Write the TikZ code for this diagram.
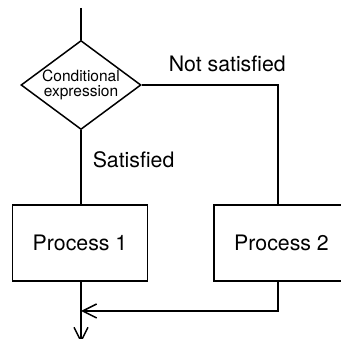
\documentclass[tikz,border=0pt]{standalone}
\usepackage{fontspec}
\setmainfont{TeX Gyre Heros}
\usetikzlibrary{shapes.geometric,arrows.meta}
\begin{document}
\begin{tikzpicture}[x=1pt,y=-1pt,line width=1.5pt,
  big/.style={font=\fontsize{21.3}{24}\selectfont},
  procbox/.style={draw,big,minimum width=135pt,minimum height=76pt,inner sep=0pt},
  lbl/.style={big,inner sep=0pt,anchor=base west},
  arr/.style={-{Straight Barb[length=14pt,width=14pt]}}]
\useasboundingbox (0,0) rectangle (341,339);
\coordinate (top) at (81,8);
\node[draw,diamond,aspect=1.35,minimum width=120pt,minimum height=89pt,inner sep=0pt,
      align=center,font=\fontsize{15.5}{15}\selectfont] (cond) at (81,85) {Conditional\\expression};
\node[procbox] (p1) at (80,243) {Process 1};
\node[procbox] (p2) at (281.5,243) {Process 2};
\coordinate (c2) at (278,205);
\coordinate (r1) at (278,281);
\coordinate (j) at (81,311);
\coordinate (out) at (81,343);
\node[lbl] (ns) at (168,72) {Not satisfied};
\node[lbl] (s) at (92,168) {Satisfied};
\draw (top) -- (cond.north);
\draw (cond.south) -- (cond.south |- p1.north);
\draw (cond.east) -| (c2);
\draw[arr] (r1) |- (j);
\draw[arr] (cond.south |- p1.south) -- (out);
\end{tikzpicture}
\end{document}
